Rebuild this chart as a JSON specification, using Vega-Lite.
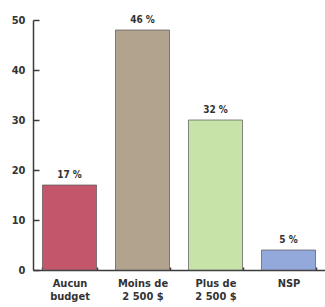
{
  "$schema": "https://vega.github.io/schema/vega-lite/v6.json",
  "autosize": {"type": "none"},
  "width": 292,
  "height": 250,
  "padding": {"left": 33, "top": 20, "right": 0, "bottom": 37},
  "background": "white",
  "config": {
    "view": {"stroke": null},
    "font": "DejaVu Sans Condensed",
    "axis": {"domainColor": "#3a3a3a", "domainWidth": 1.5, "tickColor": "#3a3a3a", "tickWidth": 1.5, "labelColor": "#333", "labelFont": "DejaVu Sans Condensed", "labelFontWeight": "bold", "grid": false, "title": null}
  },
  "data": {
    "values": [
      {"cat": "Aucun|budget", "value": 17, "label": "17 %"},
      {"cat": "Moins de|2 500 $", "value": 48, "label": "46 %"},
      {"cat": "Plus de|2 500 $", "value": 30, "label": "32 %"},
      {"cat": "NSP", "value": 4, "label": "5 %"}
    ]
  },
  "encoding": {
    "x": {"field": "cat", "type": "nominal", "sort": null,
      "scale": {"paddingInner": 0.26, "paddingOuter": 0.13},
      "axis": {"labelAngle": 0, "labelExpr": "split(datum.label, '|')", "labelFontSize": 11, "tickBand": "extent", "tickSize": -3, "labelPadding": 10, "labelLineHeight": 13}},
    "y": {"field": "value", "type": "quantitative", "scale": {"domain": [0, 50]},
      "axis": {"values": [0, 10, 20, 30, 40, 50], "tickSize": -6, "labelPadding": 14, "labelFontSize": 11}}
  },
  "layer": [
    {"mark": {"type": "bar", "stroke": "#555", "strokeWidth": 1, "strokeOpacity": 0.7},
     "encoding": {"color": {"field": "cat", "type": "nominal", "sort": null, "legend": null,
       "scale": {"range": ["#c4566b", "#b1a38e", "#c8e3a8", "#93a9dc"]}}}},
    {"mark": {"type": "text", "baseline": "bottom", "dy": -5, "fontSize": 10, "fontWeight": "bold", "color": "#333"},
     "encoding": {"text": {"field": "label"}}}
  ]
}
